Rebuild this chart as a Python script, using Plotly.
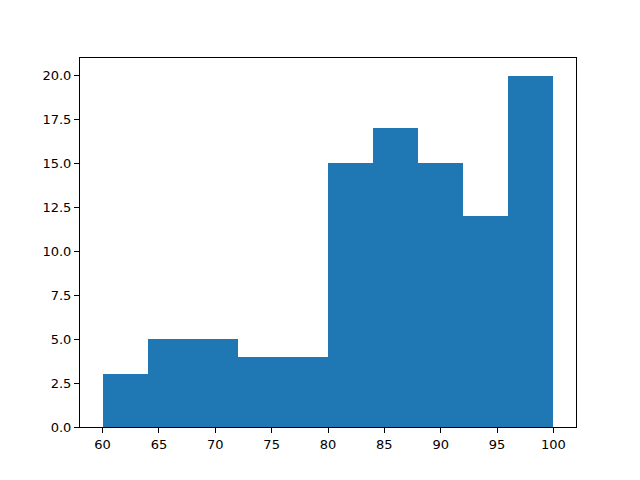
import plotly.graph_objects as go

# histogram data: bin edges and counts per bin
bin_edges = [60, 64, 68, 72, 76, 80, 84, 88, 92, 96, 100]
counts = [3, 5, 5, 4, 4, 15, 17, 15, 12, 20]

centers = [(a + b) / 2 for a, b in zip(bin_edges[:-1], bin_edges[1:])]
widths = [b - a for a, b in zip(bin_edges[:-1], bin_edges[1:])]

fig = go.Figure(go.Bar(
    x=centers, y=counts, width=widths,
    marker=dict(color="#1f77b4", line=dict(width=0)),
))

axis_style = dict(
    showline=True, linecolor="black", linewidth=1, mirror=True,
    ticks="outside", ticklen=5, tickcolor="black", tickwidth=1,
    showgrid=False, zeroline=False,
    tickfont=dict(family="DejaVu Sans", size=13, color="black"),
)

# page body adds 8px offset, so margins are shifted to compensate
fig.update_layout(
    width=640, height=480,
    paper_bgcolor="white", plot_bgcolor="white",
    margin=dict(l=72, r=72, t=50, b=61),
    showlegend=False,
    bargap=0,
    xaxis=dict(range=[58, 102], tickmode="array",
               tickvals=list(range(60, 101, 5)), **axis_style),
    yaxis=dict(range=[0, 21], tickmode="array",
               tickvals=[i * 2.5 for i in range(9)], tickformat=".1f", **axis_style),
)

fig.write_html("out.html")
